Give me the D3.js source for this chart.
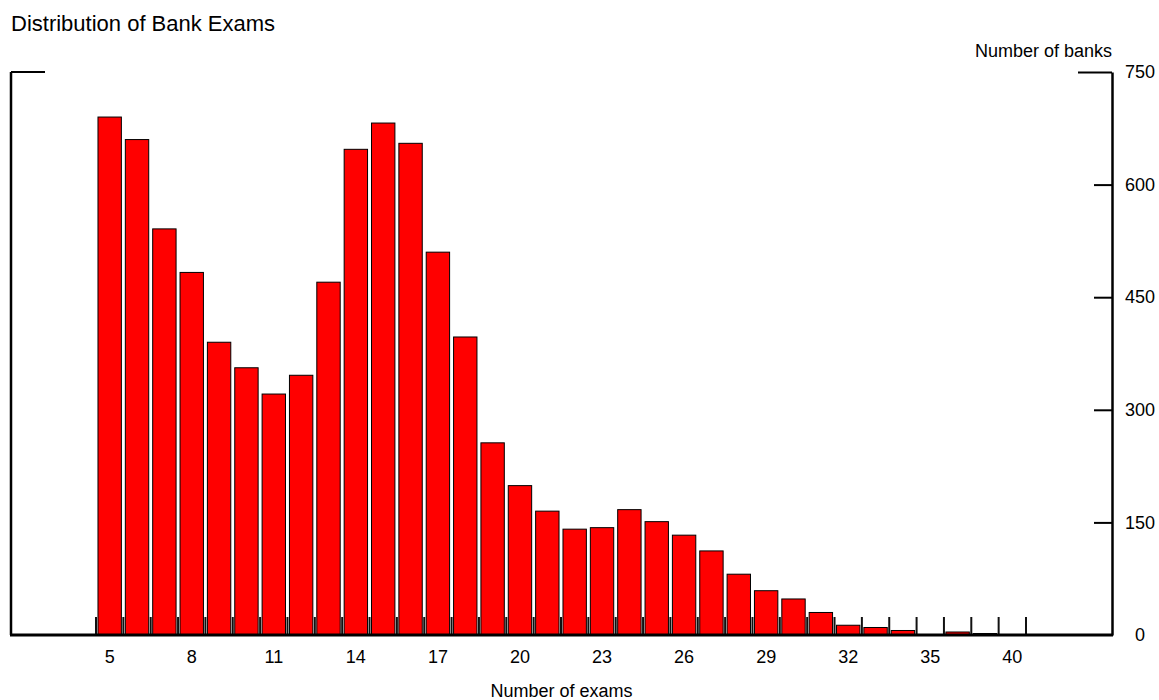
<!DOCTYPE html>
<html>
<head>
<meta charset="utf-8">
<script src="https://cdn.jsdelivr.net/npm/d3@7"></script>
<style>
  html, body { margin: 0; padding: 0; background: #fff; }
  svg { display: block; font-family: "Liberation Sans", Arial, sans-serif; }
</style>
</head>
<body>
<svg id="chart" width="1159" height="700"></svg>
<script>
// ---- data ----
const categories = ["5","6","7","8","9","10","11","12","13","14","15","16","17","18","19","20",
  "21","22","23","24","25","26","27","28","29","30","31","32","33","34","35","36","38","40"];
const banks = [690,660,541,483,390,356,321,346,470,647,682,655,510,397,256,199,
  165,141,143,167,151,133,112,81,59,48,30,13,10,6,0,4,2,0];
const xTickLabels = ["5","8","11","14","17","20","23","26","29","32","35","40"];
const yTicks = [0,150,300,450,600,750];

const title = "Distribution of Bank Exams";
const xTitle = "Number of exams";
const yTitle = "Number of banks";

// ---- layout ----
const W = 1159, H = 700;
const frame = { left: 11, right: 1112, top: 72, bottom: 635 };
const barSpan = { left: 96, right: 1026 };

const svg = d3.select("#chart");

const x = d3.scaleBand()
  .domain(categories)
  .range([barSpan.left, barSpan.right])
  .paddingInner(0.145)
  .paddingOuter(0.0725);

const y = d3.scaleLinear().domain([0, 750]).range([frame.bottom, frame.top]);

// bars
svg.append("g").selectAll("rect")
  .data(categories.map((c, i) => ({ c, v: banks[i] })))
  .join("rect")
  .attr("x", d => x(d.c))
  .attr("width", x.bandwidth())
  .attr("y", d => y(d.v))
  .attr("height", d => y(0) - y(d.v))
  .attr("fill", "#ff0000")
  .attr("stroke", d => d.v > 0 ? "#000" : "none")
  .attr("stroke-width", 1);

// category boundary ticks
const step = x.step();
const bounds = d3.range(categories.length + 1).map(i => barSpan.left + i * step);
svg.append("g").selectAll("line")
  .data(bounds)
  .join("line")
  .attr("x1", d => d).attr("x2", d => d)
  .attr("y1", y(0) - 18).attr("y2", y(0))
  .attr("stroke", "#111").attr("stroke-width", 2);

// frame lines
const fg = svg.append("g").attr("stroke", "#000").attr("fill", "none");
fg.append("line").attr("x1", frame.left).attr("x2", frame.left)
  .attr("y1", frame.top).attr("y2", frame.bottom).attr("stroke-width", 2.5);
fg.append("line").attr("x1", frame.left).attr("x2", frame.left + 34)
  .attr("y1", frame.top).attr("y2", frame.top).attr("stroke-width", 2);
fg.append("line").attr("x1", frame.left - 1).attr("x2", frame.right + 1)
  .attr("y1", frame.bottom).attr("y2", frame.bottom).attr("stroke-width", 3);

// right axis
const yAxis = d3.axisRight(y).tickValues(yTicks).tickSizeInner(-18).tickSizeOuter(0).tickPadding(28);
const ya = svg.append("g").attr("transform", `translate(${frame.right},0)`).call(yAxis);
ya.select(".domain").attr("stroke", "#000").attr("stroke-width", 2.5);
ya.selectAll(".tick line").attr("stroke", "#000").attr("stroke-width", 2)
  .attr("x2", d => d === 750 ? -34 : (d === 0 ? 0 : -18));
ya.selectAll(".tick text")
  .attr("text-anchor", "middle")
  .attr("x", 28)
  .attr("fill", "#000")
  .style("font-size", "18px")
  .style("font-family", "'Liberation Sans', Arial, sans-serif");

// bottom axis labels
const xAxis = d3.axisBottom(x)
  .tickValues(xTickLabels)
  .tickSize(0)
  .tickPadding(15);
const xa = svg.append("g").attr("transform", `translate(0,${frame.bottom})`).call(xAxis);
xa.select(".domain").remove();
xa.selectAll(".tick text")
  .attr("fill", "#000")
  .style("font-size", "18px")
  .style("font-family", "'Liberation Sans', Arial, sans-serif");

// texts
svg.append("text").attr("x", 11).attr("y", 31)
  .style("font-size", "22px").attr("fill", "#000").text(title);
svg.append("text").attr("x", frame.right).attr("y", 57)
  .attr("text-anchor", "end").style("font-size", "18px").attr("fill", "#000").text(yTitle);
svg.append("text").attr("x", (frame.left + frame.right) / 2).attr("y", 697)
  .attr("text-anchor", "middle").style("font-size", "18px").attr("fill", "#000").text(xTitle);
</script>
</body>
</html>
